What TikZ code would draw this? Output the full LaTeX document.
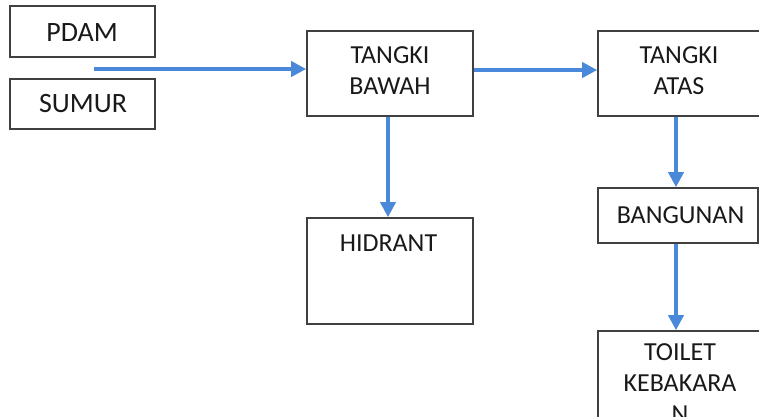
\documentclass[tikz,border=0pt]{standalone}
\usepackage{fontspec}
\setmainfont{Carlito}
\usetikzlibrary{arrows.meta}
\definecolor{flow}{RGB}{74,136,218}
\definecolor{edge}{RGB}{64,64,64}
\tikzset{
  box/.style={draw=edge, line width=1.6pt, fill=white},
  lbl/.style={anchor=north, inner sep=0pt, align=center, text=black!90,
              font=\fontsize{26}{31}\selectfont},
  biglbl/.style={lbl, font=\fontsize{28}{32}\selectfont},
  flowarrow/.style={draw=flow, line width=3.6pt,
                    -{Triangle[length=15pt,width=15pt]}, shorten >=0pt}
}
\begin{document}
\begin{tikzpicture}[x=1pt,y=-1pt]
\useasboundingbox (0,0) rectangle (759,416);
\clip (0,0) rectangle (759,416);
\fill[white] (0,0) rectangle (759,416);
% boxes
\draw[box] (10,6) rectangle (155,57) coordinate (pdamc);
\draw[box] (10,79) rectangle (155,129);
\node[box, minimum width=166pt, minimum height=85pt, inner sep=0pt] (bawah) at (390,73.5) {};
\node[box, minimum width=166pt, minimum height=85pt, inner sep=0pt] (atas) at (681,73.5) {};
\node[box, minimum width=166pt, minimum height=106pt, inner sep=0pt] (hidrant) at (390,271) {};
\node[box, minimum width=160pt, minimum height=55pt, inner sep=0pt] (bangunan) at (678,215.5) {};
\node[box, minimum width=166pt, minimum height=120pt, inner sep=0pt] (toilet) at (681,391) {};
% texts
\node[biglbl] (tpdam) at (82,23) {PDAM};
\node[biglbl] (tsumur) at (83,94) {SUMUR};
\node[lbl] (tbawah) at (390,46) {TANGKI\\BAWAH};
\node[lbl] (tatas) at (679,46) {TANGKI\\ATAS};
\node[lbl] (thidrant) at (388.5,235) {HIDRANT};
\node[lbl] (tbangunan) at (680.5,206) {BANGUNAN};
\node[lbl] (ttoilet) at (680,343) {TOILET\\KEBAKARA\\N};
% connectors
\coordinate (src) at (94,69);
\draw[flowarrow] (src) -- (bawah.west |- src);
\draw[flowarrow] (bawah.east |- 0,70) -- (atas.west |- 0,70);
\draw[flowarrow] (bawah.south -| 388,0) -- (hidrant.north -| 388,0);
\draw[flowarrow] (atas.south -| 676,0) -- (bangunan.north -| 676,0);
\draw[flowarrow] (bangunan.south -| 676,0) -- (toilet.north -| 676,0);
\end{tikzpicture}
\end{document}
